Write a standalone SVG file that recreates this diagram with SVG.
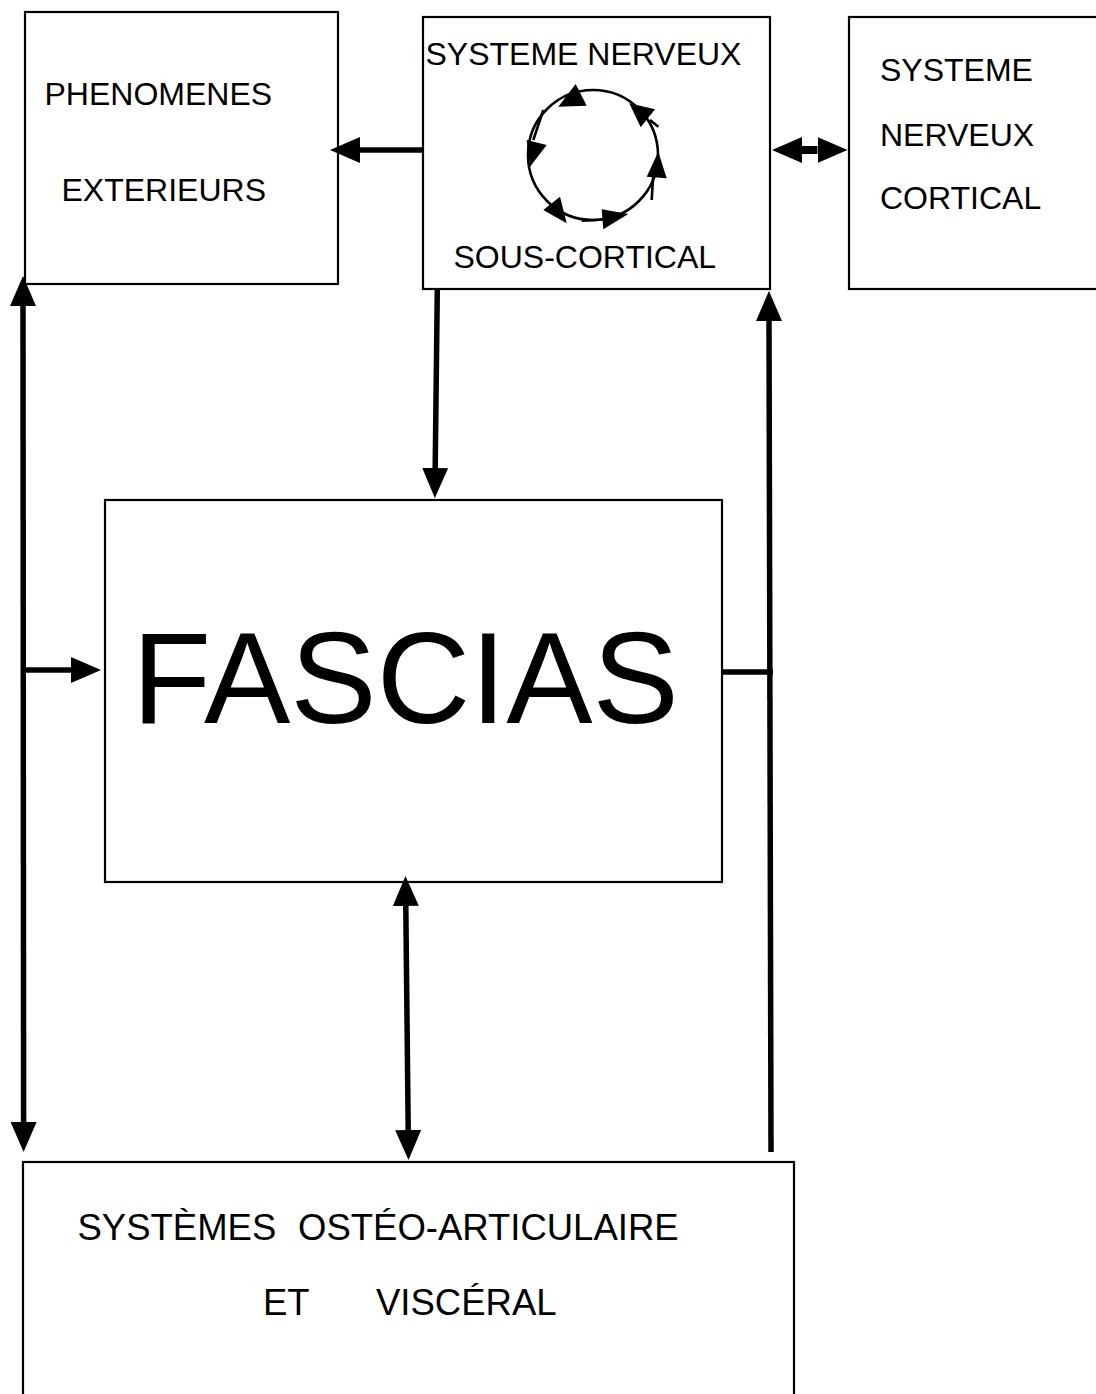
<svg xmlns="http://www.w3.org/2000/svg" width="1096" height="1394" viewBox="0 0 1096 1394">
  <style>
    .box { fill: #fff; stroke: #000; stroke-width: 2.2; }
    .lbl { font-family: "Liberation Sans", Arial, sans-serif; font-size: 32px; fill: #000; }
    .big { font-family: "Liberation Sans", Arial, sans-serif; font-size: 129.5px; fill: #000; }
    .lbl2 { font-family: "Liberation Sans", Arial, sans-serif; font-size: 36.5px; fill: #000; }
    .conn { fill: none; stroke: #000; stroke-width: 5.5; }
    .loop { fill: none; stroke: #000; stroke-width: 2.6; }
    .tip { fill: #000; stroke: none; }
  </style>
  <defs>
    <!-- arrowhead starts at the line end and points forward -->
    <marker id="head" viewBox="0 0 30 26" markerWidth="30" markerHeight="26" refX="0" refY="13" orient="auto-start-reverse" markerUnits="userSpaceOnUse">
      <path d="M0,0 L30,13 L0,26 Z" fill="#000"/>
    </marker>
  </defs>

  <rect width="1096" height="1394" fill="#fff"/>

  <!-- nodes -->
  <g id="phenomenes-exterieurs">
    <rect class="box" x="25" y="12" width="313" height="272"/>
    <text class="lbl" x="44.5" y="105">PHENOMENES</text>
    <text class="lbl" x="61.5" y="201">EXTERIEURS</text>
  </g>

  <g id="systeme-nerveux-sous-cortical">
    <rect class="box" x="423" y="17" width="347" height="272"/>
    <text class="lbl" x="425.5" y="65">SYSTEME NERVEUX</text>
    <text class="lbl" x="453.5" y="268">SOUS-CORTICAL</text>
    <!-- feedback loop drawn inside the node -->
    <g id="loop">
      <circle class="loop" cx="593" cy="155" r="65"/>
      <path class="loop" d="M543.3,110 L533.3,140 M650,120 L658.3,126.7 M653.3,173.3 L651.7,200 M581.7,220.7 L596.7,220"/>
      <polygon class="tip" points="575.7,84 558.3,106.7 586.7,105.7"/>
      <polygon class="tip" points="629.3,103.3 655,109.3 640.7,127.3"/>
      <polygon class="tip" points="658.3,151.7 646.7,176.7 666.7,178.3"/>
      <polygon class="tip" points="526.7,140 546.7,145 530,166.7"/>
      <polygon class="tip" points="543.3,210 560,196.7 566.7,223.3"/>
      <polygon class="tip" points="601.7,209.3 628.3,214 603.3,229.3"/>
    </g>
  </g>

  <g id="systeme-nerveux-cortical">
    <rect class="box" x="849" y="17" width="260" height="272"/>
    <text class="lbl" x="880" y="81">SYSTEME</text>
    <text class="lbl" x="880" y="145.5">NERVEUX</text>
    <text class="lbl" x="880" y="209">CORTICAL</text>
  </g>

  <g id="fascias">
    <rect class="box" x="105" y="500" width="617" height="382"/>
    <text class="big" x="132" y="723">FASCIAS</text>
  </g>

  <g id="systemes-osteo-articulaire-visceral">
    <rect class="box" x="23" y="1162" width="771" height="250"/>
    <text class="lbl2" y="1239.5"><tspan x="77.5">SYSTÈMES</tspan><tspan x="298">OSTÉO-ARTICULAIRE</tspan></text>
    <text class="lbl2" y="1315"><tspan x="263">ET</tspan><tspan x="376">VISCÉRAL</tspan></text>
  </g>

  <!-- connectors -->
  <g id="connectors">
    <path class="conn" d="M422,150 L360,150" marker-end="url(#head)"/>
    <path class="conn" d="M802,150 L817.5,150" style="stroke-width:8" marker-start="url(#head)" marker-end="url(#head)"/>
    <path class="conn" d="M437.3,290 L435.2,468" marker-end="url(#head)"/>
    <path class="conn" d="M23,306 L23.6,1122" marker-start="url(#head)" marker-end="url(#head)"/>
    <path class="conn" d="M26,670 L71,670" marker-end="url(#head)"/>
    <path class="conn" d="M722,672 L773,672"/>
    <path class="conn" d="M771,1152 L769,321" marker-end="url(#head)"/>
    <path class="conn" d="M405.8,906 L408.2,1130" marker-start="url(#head)" marker-end="url(#head)"/>
  </g>
</svg>
